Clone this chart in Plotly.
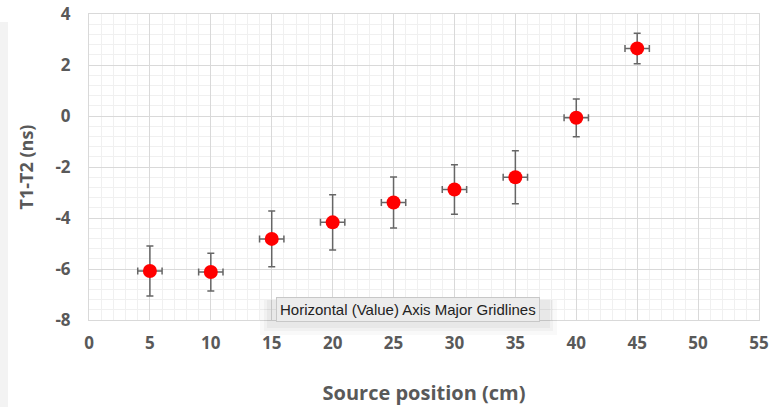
import plotly.graph_objects as go

# Source position (cm) and measured time difference T1-T2 (ns)
positions = [5, 10, 15, 20, 25, 30, 35, 40, 45]
t_diff = [-6.08, -6.12, -4.82, -4.17, -3.39, -2.88, -2.40, -0.07, 2.65]
t_err = [0.98, 0.74, 1.09, 1.08, 1.00, 0.97, 1.04, 0.74, 0.60]
pos_err = [1, 1, 1, 1, 1, 1, 1, 1, 1]

x_ticks = [0, 5, 10, 15, 20, 25, 30, 35, 40, 45, 50, 55]
y_ticks = [-8, -6, -4, -2, 0, 2, 4]

label_font = dict(family="Open Sans", size=17, color="#595959")

# plot-area size in pixels, used to place paper-referenced decorations
PW, PH = 670, 306
ML, MB = 89, 87


def px_x(px):
    return (px - ML) / PW


def px_y(py):
    return (407 - MB - py) / PH


fig = go.Figure()
fig.add_trace(go.Scatter(
    x=positions,
    y=t_diff,
    mode="markers",
    marker=dict(color="#ff0000", size=14, line=dict(width=0)),
    error_y=dict(type="data", array=t_err, visible=True,
                 color="#666666", thickness=1.5, width=3.5),
    error_x=dict(type="data", array=pos_err, visible=True,
                 color="#666666", thickness=1.5, width=3.5),
    showlegend=False,
))

axis_common = dict(
    showline=True, linecolor="#d9d9d9", linewidth=1, mirror=True,
    showgrid=True, gridcolor="#d9d9d9", gridwidth=1,
    zeroline=False, ticks="", tickfont=label_font, automargin=False,
)

fig.update_xaxes(
    range=[0, 55], tickmode="array", tickvals=x_ticks,
    ticktext=[f"<b>{v}</b>" for v in x_ticks],
    minor=dict(dtick=1, showgrid=True, gridcolor="#f0f0f0", gridwidth=1),
    title=dict(text="<b>Source position (cm)</b>",
               font=dict(family="Open Sans", size=20, color="#595959"),
               standoff=32),
    ticklabelstandoff=8,
    **axis_common,
)
fig.update_yaxes(
    range=[-8, 4], tickmode="array", tickvals=y_ticks,
    ticktext=[f"<b>{v}</b>" for v in y_ticks],
    minor=dict(dtick=0.4, showgrid=True, gridcolor="#f0f0f0", gridwidth=1),
    title=dict(text="<b>T1-T2 (ns)</b>",
               font=dict(family="Open Sans", size=18, color="#595959"),
               standoff=17),
    ticklabelstandoff=14,
    **axis_common,
)

# light strip along the left edge of the window
fig.add_shape(type="rect", xref="paper", yref="paper",
              x0=px_x(0), x1=px_x(8), y0=px_y(407), y1=px_y(22),
              fillcolor="#f3f3f3", line=dict(width=0), layer="below")

# soft shadow under the hover tip
for pad, alpha in [(10, 0.025), (6, 0.03), (3, 0.035)]:
    fig.add_shape(type="rect", xref="paper", yref="paper",
                  x0=px_x(270 - pad), x1=px_x(547 + pad),
                  y0=px_y(321 + pad + 4), y1=px_y(300),
                  fillcolor=f"rgba(0,0,0,{alpha})", line=dict(width=0),
                  layer="above")

# hover tip box for the gridlines
fig.add_annotation(
    xref="paper", yref="paper",
    x=px_x(408), y=px_y(309),
    text="Horizontal (Value) Axis Major Gridlines",
    showarrow=False,
    font=dict(family="Liberation Sans", size=15, color="#222222"),
    bgcolor="#ececec", bordercolor="#c8c8c8", borderwidth=1, borderpad=3,
    xanchor="center", yanchor="middle",
)

fig.update_layout(
    width=772, height=407,
    margin=dict(l=ML, r=13, t=14, b=MB),
    paper_bgcolor="white", plot_bgcolor="white",
)

fig.write_html("out.html")
